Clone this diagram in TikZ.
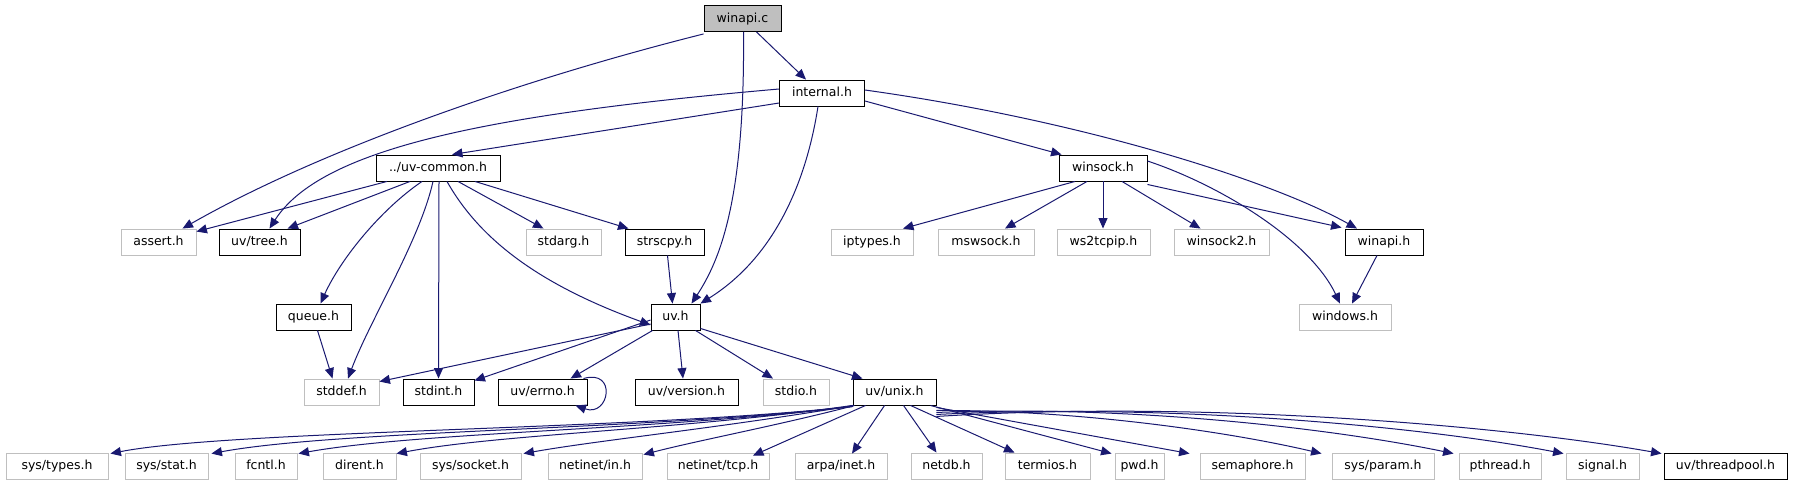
\documentclass[tikz,border=0pt]{standalone}
\usepackage{fontspec}
\setmainfont{DejaVu Sans}
\usetikzlibrary{arrows.meta}
\definecolor{edgeblue}{HTML}{191970}
\definecolor{lgray}{HTML}{BFBFBF}
\begin{document}
\begin{tikzpicture}[x=1pt,y=-1pt,
  box/.style={draw=black,line width=0.9pt,fill=white,minimum height=26pt,inner sep=0pt,
    font=\fontsize{12.5}{14}\selectfont,text height=9.5pt,text depth=2.5pt},
  gbox/.style={box,draw=lgray},
  rootbox/.style={box,fill=lgray},
  edge/.style={draw=edgeblue,line width=1pt,-{Triangle[length=10.5pt,width=9pt]}}]
\useasboundingbox (0,0) rectangle (1793,485);
% row 1
\node[rootbox,minimum width=77pt] (winapi) at (742.5,18.5) {winapi.c};
% row 2
\node[box,minimum width=85pt] (internal) at (822,93) {internal.h};
% row 3
\node[box,minimum width=124pt] (uvcommon) at (438,168) {../uv-common.h};
\node[box,minimum width=88pt] (winsock) at (1103,168) {winsock.h};
% row 4
\node[gbox,minimum width=75pt] (assert) at (158.5,242) {assert.h};
\node[box,minimum width=81pt] (uvtree) at (259.5,242) {uv/tree.h};
\node[gbox,minimum width=75pt] (stdarg) at (563.5,242) {stdarg.h};
\node[box,minimum width=79pt] (strscpy) at (664.5,242) {strscpy.h};
\node[gbox,minimum width=82pt] (iptypes) at (872,242) {iptypes.h};
\node[gbox,minimum width=96pt] (mswsock) at (986,242) {mswsock.h};
\node[gbox,minimum width=93pt] (ws2tcpip) at (1103.5,242) {ws2tcpip.h};
\node[gbox,minimum width=95pt] (winsock2) at (1221.5,242) {winsock2.h};
\node[box,minimum width=78pt] (winapih) at (1384,242) {winapi.h};
% row 5
\node[box,minimum width=75pt] (queue) at (313.5,317) {queue.h};
\node[box,minimum width=49pt] (uvh) at (675.5,317) {uv.h};
\node[gbox,minimum width=92pt] (windows) at (1345,317) {windows.h};
% row 6
\node[gbox,minimum width=75pt] (stddef) at (341.5,392) {stddef.h};
\node[box,minimum width=71pt] (stdint) at (438.5,392) {stdint.h};
\node[box,minimum width=89pt] (errno) at (542.5,392) {uv/errno.h};
\node[box,minimum width=103pt] (version) at (686.5,392) {uv/version.h};
\node[gbox,minimum width=66pt] (stdio) at (796,392) {stdio.h};
\node[box,minimum width=83pt] (uvunix) at (894.5,392) {uv/unix.h};
% row 7
\node[gbox,minimum width=102pt] (systypes) at (57,466) {sys/types.h};
\node[gbox,minimum width=83pt] (sysstat) at (166.5,466) {sys/stat.h};
\node[gbox,minimum width=62pt] (fcntl) at (266,466) {fcntl.h};
\node[gbox,minimum width=73pt] (dirent) at (359.5,466) {dirent.h};
\node[gbox,minimum width=101pt] (syssocket) at (470.5,466) {sys/socket.h};
\node[gbox,minimum width=94pt] (netin) at (595,466) {netinet/in.h};
\node[gbox,minimum width=102pt] (nettcp) at (718,466) {netinet/tcp.h};
\node[gbox,minimum width=92pt] (arpa) at (841,466) {arpa/inet.h};
\node[gbox,minimum width=71pt] (netdb) at (946.5,466) {netdb.h};
\node[gbox,minimum width=85pt] (termios) at (1047.5,466) {termios.h};
\node[gbox,minimum width=49pt] (pwd) at (1139.5,466) {pwd.h};
\node[gbox,minimum width=105pt] (semaphore) at (1252.5,466) {semaphore.h};
\node[gbox,minimum width=102pt] (sysparam) at (1383,466) {sys/param.h};
\node[gbox,minimum width=82pt] (pthread) at (1500,466) {pthread.h};
\node[gbox,minimum width=73pt] (signal) at (1602.5,466) {signal.h};
\node[box,minimum width=123pt] (threadpool) at (1725.5,466) {uv/threadpool.h};

% edges from winapi.c
\draw[edge] ([yshift=-2pt]winapi.south west) .. controls (520,80) and (320,150) .. ([xshift=24pt]assert.north);
\draw[edge] ([xshift=1pt]winapi.south) .. controls (745,200) and (720,260) .. ([xshift=16pt]uvh.north);
\draw[edge] ([xshift=14pt]winapi.south) -- ([xshift=-16pt]internal.north);
% edges from internal.h
\draw[edge] ([yshift=4pt]internal.west) .. controls (480,115) and (320,150) .. ([xshift=10pt]uvtree.north);
\draw[edge] ([yshift=-10pt]internal.west) -- ([xshift=14pt]uvcommon.north);
\draw[edge] ([xshift=-4pt]internal.south) .. controls (805,190) and (770,260) .. (uvh.north east);
\draw[edge] ([yshift=-8pt]internal.east) -- ([xshift=3pt]winsock.north west);
\draw[edge] ([yshift=3pt]internal.east) .. controls (1080,120) and (1270,180) .. ([xshift=-27pt]winapih.north);
% edges from winsock.h
\draw[edge] ([xshift=-28pt]winsock.south) -- ([xshift=31pt]iptypes.north);
\draw[edge] ([xshift=-16pt]winsock.south) -- ([xshift=19pt]mswsock.north);
\draw[edge] (winsock.south) -- ([xshift=-0.5pt]ws2tcpip.north);
\draw[edge] ([xshift=19pt]winsock.south) -- ([xshift=-21pt]winsock2.north);
\draw[edge] ([yshift=-3pt]winsock.south east) -- ([xshift=-3pt,yshift=1pt]winapih.north west);
\draw[edge] ([yshift=7pt]winsock.east) .. controls (1220,185) and (1310,240) .. ([xshift=-5pt]windows.north);
\draw[edge] ([xshift=-7pt]winapih.south) -- ([xshift=7pt]windows.north);
% edges from ../uv-common.h
\draw[edge] ([xshift=-51pt]uvcommon.south) -- ([yshift=-3pt]assert.north east);
\draw[edge] ([xshift=-28pt]uvcommon.south) -- ([xshift=28pt]uvtree.north);
\draw[edge] ([xshift=-16pt]uvcommon.south) .. controls (380,210) and (340,260) .. ([xshift=7pt]queue.north);
\draw[edge] ([xshift=-5pt]uvcommon.south) .. controls (420,240) and (370,320) .. ([xshift=6.5pt]stddef.north);
\draw[edge] ([xshift=1pt]uvcommon.south) -- (stdint.north);
\draw[edge] ([xshift=9pt]uvcommon.south) .. controls (480,240) and (540,285) .. ([yshift=-8pt]uvh.west);
\draw[edge] ([xshift=20pt]uvcommon.south) -- ([xshift=-20pt]stdarg.north);
\draw[edge] ([xshift=37pt]uvcommon.south) -- ([xshift=-36pt]strscpy.north);
% strscpy, queue
\draw[edge] ([xshift=3pt]strscpy.south) -- ([xshift=-3pt]uvh.north);
\draw[edge] ([xshift=4pt]queue.south) -- ([xshift=-9pt]stddef.north);
% edges from uv.h
\draw[edge] ([yshift=-7pt]uvh.west) -- ([yshift=-3pt]stddef.north east);
\draw[edge] ([yshift=-3pt]uvh.west) -- ([yshift=-2pt]stdint.north east);
\draw[edge] ([xshift=2pt]uvh.south west) -- ([xshift=28pt]errno.north);
\draw[edge] ([xshift=2.5pt]uvh.south) -- ([xshift=-3.5pt]version.north);
\draw[edge] ([xshift=20pt]uvh.south) -- ([xshift=-23pt]stdio.north);
\draw[edge] ([yshift=2pt]uvh.south east) -- ([xshift=-32pt]uvunix.north);
\draw[edge] ([xshift=-4pt]errno.north east) .. controls +(34,-10) and +(34,12) .. ([xshift=-12pt]errno.south east);
% edges from uv/unix.h
\draw[edge] ([yshift=-1pt]uvunix.south west) .. controls (640,430) and (232,430) .. ([yshift=-1pt,xshift=2pt]systypes.north east);
\draw[edge] ([yshift=-1pt]uvunix.south west) .. controls (650,430) and (340,430) .. ([yshift=-1pt,xshift=3pt]sysstat.north east);
\draw[edge] ([yshift=-1pt]uvunix.south west) .. controls (660,430) and (420,432) .. ([yshift=-1pt,xshift=1pt]fcntl.north east);
\draw[edge] (uvunix.south west) .. controls (680,430) and (500,434) .. ([yshift=-1pt,xshift=0pt]dirent.north east);
\draw[edge] ([xshift=1pt]uvunix.south west) .. controls (720,428) and (600,440) .. ([yshift=-1pt,xshift=2pt]syssocket.north east);
\draw[edge] ([xshift=2pt]uvunix.south west) .. controls (780,425) and (700,440) .. ([yshift=-2pt,xshift=1pt]netin.north east);
\draw[edge] ([xshift=13pt]uvunix.south west) -- ([xshift=35pt,yshift=-3pt]nettcp.north);
\draw[edge] ([xshift=32pt]uvunix.south west) -- ([xshift=11pt,yshift=-1pt]arpa.north);
\draw[edge] ([xshift=9pt]uvunix.south) -- ([xshift=-10pt]netdb.north);
\draw[edge] ([xshift=16pt]uvunix.south) -- ([xshift=-33pt]termios.north);
\draw[edge] ([xshift=-6pt]uvunix.south east) -- ([xshift=-3pt,yshift=-1pt]pwd.north west);
\draw[edge] ([yshift=-2pt]uvunix.south east) -- ([xshift=-10pt,yshift=-1pt]semaphore.north west);
\draw[edge] ([yshift=-5pt]uvunix.south east) .. controls (1080,410) and (1230,432) .. ([xshift=-10pt,yshift=-1pt]sysparam.north west);
\draw[edge] ([yshift=-7pt]uvunix.south east) .. controls (1130,405) and (1330,428) .. ([xshift=-5pt,yshift=-1pt]pthread.north west);
\draw[edge] ([yshift=-9pt]uvunix.south east) .. controls (1170,403) and (1420,426) .. ([xshift=-2pt,yshift=-1pt]signal.north west);
\draw[edge] ([yshift=-11pt]uvunix.south east) .. controls (1200,400) and (1500,425) .. ([xshift=-2pt,yshift=-1pt]threadpool.north west);
\end{tikzpicture}
\end{document}
